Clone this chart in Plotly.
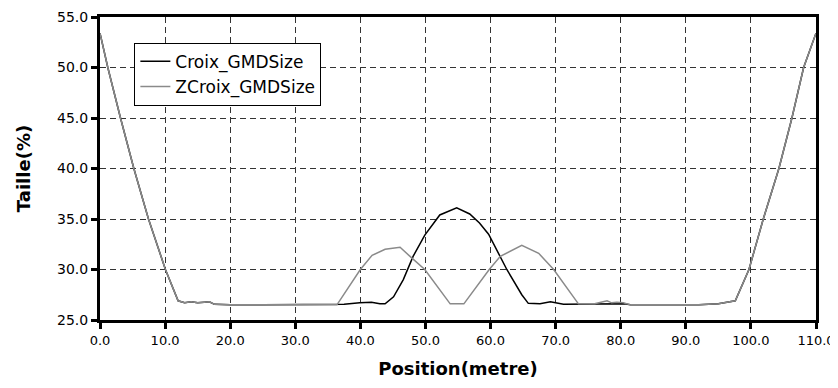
import plotly.graph_objects as go

# Croix_GMDSize (black)
croix_x = [0.0, 1.2, 3.15, 5.2, 7.45, 10.05, 12.0, 13.0, 14.0, 15.0, 16.0, 16.8, 17.6,
           20.0, 25.0, 30.0, 36.4, 37.5, 39.9, 41.7, 43.0, 43.8, 45.1, 46.6, 48.1, 49.9,
           52.2, 54.8, 56.8, 58.3, 59.7, 61.0, 62.5, 64.8, 65.8, 67.6, 69.2, 71.2, 75.0,
           80.5, 81.5, 85.0, 90.0, 92.0, 95.0, 97.6, 99.7, 101.9, 104.3, 106.3, 108.1, 110.0]
croix_y = [53.4, 50.0, 45.0, 40.0, 35.0, 30.0, 26.9, 26.7, 26.8, 26.7, 26.75, 26.8, 26.55,
           26.5, 26.5, 26.5, 26.5, 26.55, 26.7, 26.75, 26.6, 26.6, 27.3, 29.0, 31.3, 33.4,
           35.4, 36.1, 35.5, 34.6, 33.5, 31.9, 30.0, 27.5, 26.65, 26.6, 26.8, 26.55, 26.55,
           26.6, 26.5, 26.5, 26.5, 26.5, 26.6, 26.9, 30.0, 35.0, 40.0, 45.0, 50.0, 53.4]

# ZCroix_GMDSize (grey)
zcroix_x = [0.0, 1.2, 3.15, 5.2, 7.45, 10.05, 12.0, 13.0, 14.0, 15.0, 16.0, 16.8, 17.6,
            20.0, 25.0, 30.0, 36.4, 40.0, 41.8, 43.8, 46.1, 47.8, 49.9, 53.8, 55.9, 59.8,
            61.5, 64.8, 67.4, 69.7, 73.5, 76.0, 77.9, 78.6, 79.4, 80.4, 81.5, 85.0, 90.0,
            92.0, 95.0, 97.6, 99.7, 101.9, 104.3, 106.3, 108.1, 110.0]
zcroix_y = [53.4, 50.0, 45.0, 40.0, 35.0, 30.0, 26.9, 26.7, 26.8, 26.7, 26.75, 26.8, 26.55,
            26.5, 26.5, 26.5, 26.5, 30.0, 31.4, 32.0, 32.2, 31.2, 30.0, 26.6, 26.6, 30.0,
            31.3, 32.4, 31.6, 30.0, 26.6, 26.6, 26.9, 26.7, 26.75, 26.7, 26.5, 26.5, 26.5,
            26.5, 26.6, 26.9, 30.0, 35.0, 40.0, 45.0, 50.0, 53.4]

x_ticks = [0, 10, 20, 30, 40, 50, 60, 70, 80, 90, 100, 110]
y_ticks = [25, 30, 35, 40, 45, 50, 55]

FONT = 'DejaVu Sans'
GRID = dict(showgrid=True, gridcolor='#333', gridwidth=1, griddash='6px,4px')
AXIS = dict(showline=True, linecolor='black', linewidth=3, mirror=True,
            ticks='outside', ticklen=6, tickwidth=3, tickcolor='black',
            zeroline=False, automargin=False, tickformat='.1f')

fig = go.Figure()
fig.add_trace(go.Scatter(x=croix_x, y=croix_y, mode='lines', name='Croix_GMDSize',
                         line=dict(color='#000000', width=1.5)))
fig.add_trace(go.Scatter(x=zcroix_x, y=zcroix_y, mode='lines', name='ZCroix_GMDSize',
                         line=dict(color='#8a8a8a', width=1.5)))

# page body has an 8px margin, so the figure is sized 8px smaller each way
fig.update_layout(
    width=830, height=380,
    margin=dict(l=92, r=22, t=9, b=68),
    paper_bgcolor='white', plot_bgcolor='white',
    font=dict(family=FONT, color='black'),
    showlegend=True,
    legend=dict(x=0.048, y=0.915, xanchor='left', yanchor='top',
                bgcolor='white', bordercolor='black', borderwidth=1,
                font=dict(size=17, family=FONT)),
    xaxis=dict(range=[0, 110], tickvals=x_ticks,
               tickfont=dict(size=13, family=FONT),
               title=dict(text='<b>Position(metre)</b>', font=dict(size=18, family=FONT),
                          standoff=16),
               **AXIS, **GRID),
    yaxis=dict(range=[25, 55], tickvals=y_ticks,
               tickfont=dict(size=14, family=FONT),
               title=dict(text='<b>Taille(%)</b>', font=dict(size=18, family=FONT),
                          standoff=22),
               **AXIS, **GRID),
)

fig.write_html('out.html')
